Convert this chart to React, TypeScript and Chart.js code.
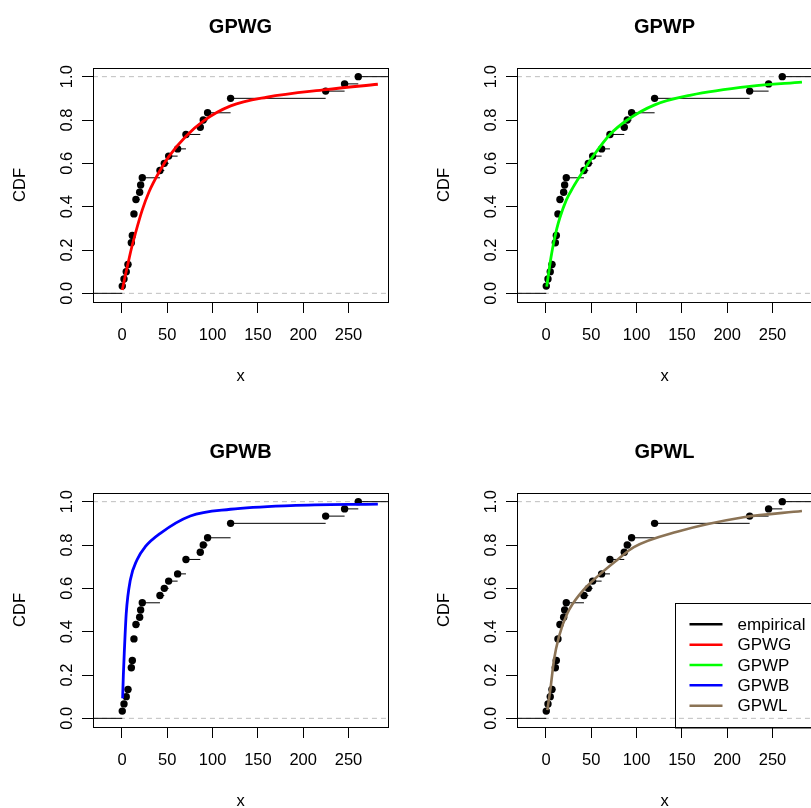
import React, { useEffect, useRef } from "react";
import { Chart, registerables } from "chart.js";
Chart.register(...registerables);

// ---------- data ----------
const ecdfX = [0.3, 2.2, 4.7, 6.6, 10.3, 11.4, 13.2, 15.4, 19.5, 20.6, 22.4, 41.9, 46.7, 51.5, 61.4, 70.6, 86.4, 89.7, 94.5, 119.9, 224.8, 245.7, 260.8];
const ecdfY = [0.0333, 0.0667, 0.1, 0.1333, 0.2333, 0.2667, 0.3667, 0.4333, 0.4667, 0.5, 0.5333, 0.5667, 0.6, 0.6333, 0.6667, 0.7333, 0.7667, 0.8, 0.8333, 0.9, 0.9333, 0.9667, 1.0];

const gpwgX = [0.3, 3.3, 7.3, 10, 14.7, 22.4, 30, 42, 52, 70.6, 89.7, 120, 160, 225, 282.4];
const gpwgY = [0.015, 0.075, 0.15, 0.2, 0.275, 0.385, 0.47, 0.567, 0.633, 0.725, 0.795, 0.865, 0.905, 0.94, 0.965];

const gpwpX = [0.8, 3, 5.5, 8.8, 12, 15.4, 22.4, 30, 42, 52, 70.6, 89.7, 120, 160, 225, 282.5];
const gpwpY = [0.031, 0.095, 0.165, 0.24, 0.3, 0.35, 0.43, 0.49, 0.57, 0.633, 0.733, 0.8, 0.87, 0.915, 0.955, 0.975];

const gpwbX = [0.7, 1.5, 2.5, 4.7, 9.2, 16.5, 25.7, 42.3, 75.4, 119.6, 186, 282.4];
const gpwbY = [0.092, 0.2, 0.3, 0.485, 0.638, 0.731, 0.792, 0.854, 0.934, 0.965, 0.982, 0.989];

const gpwlX = [1.5, 5.2, 8.8, 14.3, 23.6, 38.2, 56.6, 78.6, 97, 144.7, 218, 282.5];
const gpwlY = [0.038, 0.146, 0.269, 0.377, 0.485, 0.577, 0.654, 0.731, 0.79, 0.861, 0.928, 0.957];

const xTicks = [0, 50, 100, 150, 200, 250];
const yTicks = [0, 0.2, 0.4, 0.6, 0.8, 1.0];
const yTickLabels = ["0.0", "0.2", "0.4", "0.6", "0.8", "1.0"];

const panelTitles = ["GPWG", "GPWP", "GPWB", "GPWL"];
const legendLabels = ["empirical", "GPWG", "GPWP", "GPWB", "GPWL"];
const legendColors = ["#000000", "#FF0000", "#00FF00", "#0000FF", "#8B7355"];

// ---------- layout / style ----------
const X_MIN = -32;
const X_MAX = 293.6;
const Y_MIN = -0.04;
const Y_MAX = 1.04;
const FAMILY = "'Liberation Sans', Arial, Helvetica, sans-serif";
const CW = 405;
const CH = 404;

type PanelCfg = {
  title: string;
  cx: number[];
  cy: number[];
  color: string;
  width: number;
  left: number;
  top: number;
  legend: boolean;
};

const panels: PanelCfg[] = [
  { title: panelTitles[0], cx: gpwgX, cy: gpwgY, color: legendColors[1], width: 2.8, left: 0, top: 0, legend: false },
  { title: panelTitles[1], cx: gpwpX, cy: gpwpY, color: legendColors[2], width: 2.8, left: 424, top: 0, legend: false },
  { title: panelTitles[2], cx: gpwbX, cy: gpwbY, color: legendColors[3], width: 2.8, left: 0, top: 425, legend: false },
  { title: panelTitles[3], cx: gpwlX, cy: gpwlY, color: legendColors[4], width: 2.6, left: 424, top: 425, legend: true },
];

const boxPlugin = {
  id: "rbox",
  afterDraw(chart: any) {
    const { ctx, chartArea: a } = chart;
    ctx.save();
    ctx.strokeStyle = "#000";
    ctx.lineWidth = 1;
    ctx.strokeRect(Math.round(a.left) + 0.5, Math.round(a.top) + 0.5, Math.round(a.right - a.left), Math.round(a.bottom - a.top));
    ctx.restore();
  },
};

const legendPlugin = {
  id: "rlegend",
  afterDraw(chart: any, _args: any, opts: any) {
    if (!opts || !opts.show) return;
    const { ctx, chartArea: a } = chart;
    const lx = a.right - 137.5;
    const ty = a.bottom - 124.5;
    ctx.save();
    ctx.strokeStyle = "#000";
    ctx.lineWidth = 1;
    ctx.strokeRect(Math.round(lx) + 0.5, Math.round(ty) + 0.5, a.right - lx + 5, a.bottom - ty);
    ctx.font = `17px ${FAMILY}`;
    ctx.textBaseline = "middle";
    ctx.textAlign = "left";
    legendLabels.forEach((lab, i) => {
      const y = ty + 21.8 + i * 20.35;
      ctx.strokeStyle = legendColors[i];
      ctx.lineWidth = 2.5;
      ctx.beginPath();
      ctx.moveTo(lx + 15, y);
      ctx.lineTo(lx + 48, y);
      ctx.stroke();
      ctx.fillStyle = "#000";
      ctx.fillText(lab, lx + 63, y + 1);
    });
    ctx.restore();
  },
};

function Panel({ cfg }: { cfg: PanelCfg }) {
  const ref = useRef<HTMLCanvasElement>(null);
  useEffect(() => {
    const curve = cfg.cx.map((x, i) => ({ x, y: cfg.cy[i] }));
    const points = ecdfX.map((x, i) => ({ x, y: ecdfY[i] }));
    const steps: any[] = [{ x: X_MIN - 10, y: 0 }, { x: ecdfX[0], y: 0 }, { x: ecdfX[0], y: null }];
    ecdfX.forEach((x, i) => {
      const next = i + 1 < ecdfX.length ? ecdfX[i + 1] : X_MAX + 10;
      steps.push({ x, y: ecdfY[i] }, { x: next, y: ecdfY[i] }, { x: next, y: null });
    });
    const font = { family: FAMILY, size: 16.5 };
    const chart = new Chart(ref.current!, {
      type: "scatter",
      data: {
        datasets: [
          {
            data: curve,
            showLine: true,
            borderColor: cfg.color,
            borderWidth: cfg.width,
            pointRadius: 0,
            cubicInterpolationMode: "monotone",
            fill: false,
          } as any,
          {
            data: points,
            pointRadius: 3.7,
            backgroundColor: "#000",
            borderWidth: 0,
            pointStyle: "circle",
          },
          {
            data: steps,
            showLine: true,
            borderColor: "#000",
            borderWidth: 1,
            pointRadius: 0,
            spanGaps: false,
          },
          {
            data: [{ x: X_MIN - 10, y: 0 }, { x: X_MAX + 10, y: 0 }],
            showLine: true,
            borderColor: "#BEBEBE",
            borderWidth: 1,
            borderDash: [5, 4],
            pointRadius: 0,
          },
          {
            data: [{ x: X_MIN - 10, y: 1 }, { x: X_MAX + 10, y: 1 }],
            showLine: true,
            borderColor: "#BEBEBE",
            borderWidth: 1,
            borderDash: [5, 4],
            pointRadius: 0,
          },
        ],
      },
      options: {
        animation: false,
        responsive: false,
        events: [],
        layout: { padding: { left: 0, right: CW - 388, top: 0, bottom: 0 } },
        plugins: {
          legend: { display: false },
          tooltip: { enabled: false },
          title: {
            display: true,
            fullSize: false,
            text: cfg.title,
            color: "#000",
            font: { family: FAMILY, size: 20, weight: "bold" },
            padding: { top: 15, bottom: 29 },
          },
          rlegend: { show: cfg.legend },
        } as any,
        scales: {
          x: {
            type: "linear",
            min: X_MIN,
            max: X_MAX,
            afterBuildTicks: (s: any) => {
              s.ticks = xTicks.map((v) => ({ value: v }));
            },
            afterFit: (s: any) => {
              s.height = CH - 302;
            },
            grid: { display: true, drawOnChartArea: false, drawTicks: true, tickLength: 11, color: "#000", lineWidth: 1 },
            border: { display: false },
            ticks: { font, color: "#000", padding: 13, maxRotation: 0, autoSkip: false },
            title: { display: true, text: "x", font, color: "#000", padding: { top: 0, bottom: 17.7 } },
          },
          y: {
            type: "linear",
            min: Y_MIN,
            max: Y_MAX,
            afterBuildTicks: (s: any) => {
              s.ticks = yTicks.map((v) => ({ value: v }));
            },
            afterFit: (s: any) => {
              s.width = 93;
            },
            grid: { display: true, drawOnChartArea: false, drawTicks: true, tickLength: 11, color: "#000", lineWidth: 1 },
            border: { display: false },
            ticks: {
              font,
              color: "#000",
              padding: 3,
              minRotation: 90,
              maxRotation: 90,
              crossAlign: "center",
              autoSkip: false,
              callback: (v: any) => {
                const i = yTicks.findIndex((t) => Math.abs(t - Number(v)) < 1e-9);
                return i >= 0 ? yTickLabels[i] : "";
              },
            },
            title: { display: true, text: "CDF", font, color: "#000", padding: { top: 11, bottom: 0 } },
          },
        },
      } as any,
      plugins: [boxPlugin, legendPlugin],
    });
    return () => chart.destroy();
  }, []);
  return (
    <canvas
      ref={ref}
      width={CW}
      height={CH}
      style={{ position: "absolute", left: cfg.left, top: cfg.top, width: CW, height: CH }}
    />
  );
}

export default function App() {
  return (
    <div
      style={{
        position: "fixed",
        left: 0,
        top: 0,
        width: 811,
        height: 808,
        overflow: "hidden",
        background: "#fff",
      }}
    >
      {panels.map((p, i) => (
        <Panel key={i} cfg={p} />
      ))}
    </div>
  );
}
